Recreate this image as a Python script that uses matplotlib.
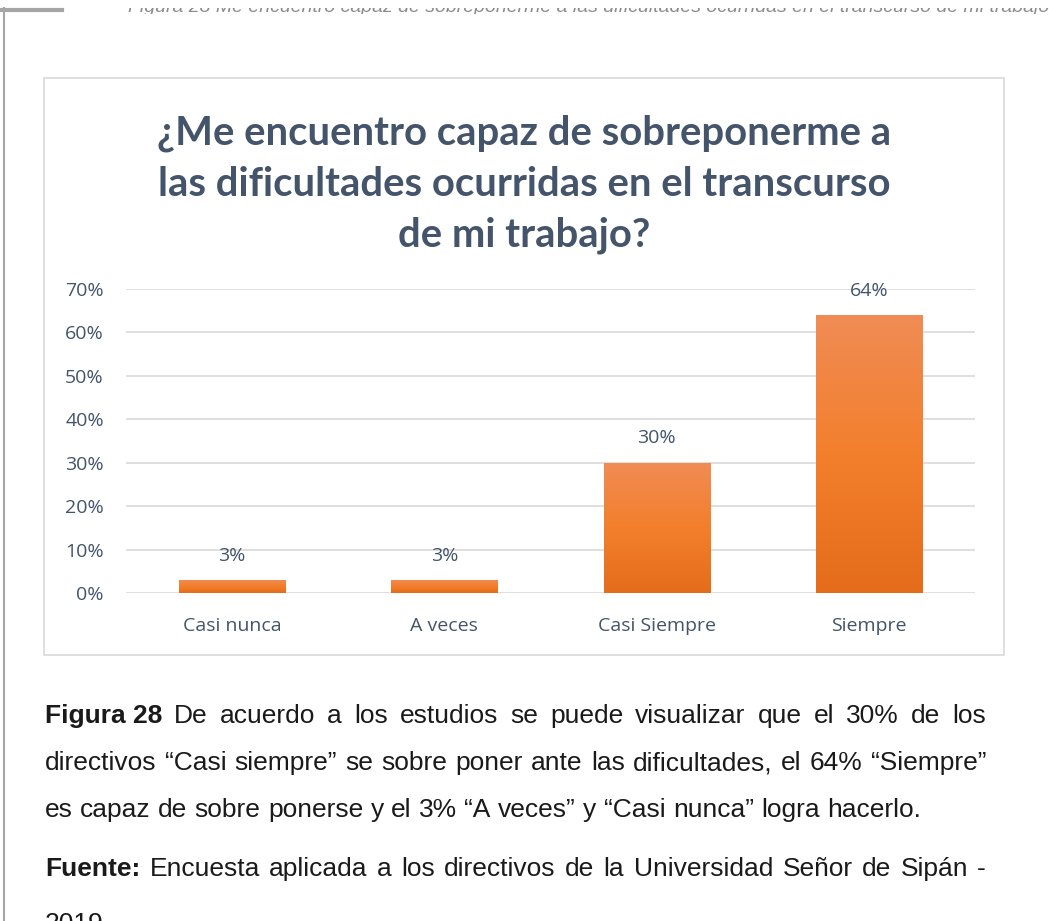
import numpy as np
import matplotlib.pyplot as plt
from matplotlib.patches import Rectangle
from matplotlib.lines import Line2D
from matplotlib.colors import LinearSegmentedColormap

categories = ["Casi nunca", "A veces", "Casi Siempre", "Siempre"]
values = [0.03, 0.03, 0.30, 0.64]
labels = ["3%", "3%", "30%", "64%"]
yticks = [0, 0.1, 0.2, 0.3, 0.4, 0.5, 0.6, 0.7]

title = "¿Me encuentro capaz de sobreponerme a\nlas dificultades ocurridas en el transcurso\nde mi trabajo?"
caption = [
    ("Figura 28", "De acuerdo a los estudios se puede visualizar que el 30% de los", True),
    ("", "directivos “Casi siempre” se sobre poner ante las dificultades, el 64% “Siempre”", True),
    ("", "es capaz de sobre ponerse y el 3% “A veces” y “Casi nunca” logra hacerlo.", False),
]
source = ("Fuente:", "Encuesta aplicada a los directivos de la Universidad Señor de Sipán -")

W, H = 1049, 921
fig = plt.figure(figsize=(W / 100, H / 100), dpi=100)


def fx(px):
    return px / W


def fy(py):
    return 1 - py / H


txt_col = "#44546A"

# page border and the cut-off caption of the previous figure (only its bottom strip shows)
fig.add_artist(Line2D([fx(4), fx(4)], [fy(8), 0], color="#A6A6A6", lw=1.5))
fig.add_artist(Line2D([0, fx(62)], [fy(10), fy(10)], color="#A6A6A6", lw=3))
strip = fig.add_axes([0, fy(14), 1, fy(8) - fy(14)])
strip.axis("off")
strip.text(fx(128), 0.35, "Figura 28 Me encuentro capaz de sobreponerme a las dificultades ocurridas en el transcurso de mi trabajo",
           transform=strip.transAxes, fontsize=14, style="italic", color="#8C8C8C",
           va="baseline", ha="left", family="Liberation Sans", clip_on=True)

# chart box
fig.add_artist(Rectangle((fx(44), fy(655)), fx(1004) - fx(44), fy(78) - fy(655),
                         fill=False, edgecolor="#D9D9D9", lw=1.2))

fig.text(fx(524), fy(184), title, ha="center", va="center", fontsize=28.8, fontweight="bold",
         color=txt_col, family="Lato", linespacing=1.45)

ax = fig.add_axes([fx(126), fy(593), fx(975) - fx(126), fy(289) - fy(593)])
x = np.arange(len(categories))
bars = ax.bar(x, values, width=0.5, color="#F37F2C", zorder=3)

# vertical gradient on each bar
grad = np.linspace(0, 1, 256).reshape(-1, 1)
cmap = LinearSegmentedColormap.from_list("og", ["#E46C1A", "#F37F2C", "#F08C55"])
for b in bars:
    x0, y0 = b.get_x(), b.get_y()
    im = ax.imshow(grad, cmap=cmap, aspect="auto", origin="lower",
                   extent=[x0, x0 + b.get_width(), y0, y0 + b.get_height()], zorder=4)
    im.set_clip_path(b)

for xi, v, lab in zip(x, values, labels):
    ax.annotate(lab, (xi, v), xytext=(0, 11), textcoords="offset points", ha="center",
                va="bottom", fontsize=14, color=txt_col, family="Open Sans")

ax.set_xlim(-0.5, len(categories) - 0.5)
ax.set_ylim(0, 0.7)
ax.set_yticks(yticks)
ax.set_yticklabels([f"{int(round(t * 100))}%" for t in yticks])
ax.set_xticks(x)
ax.set_xticklabels(categories)
for s in ax.spines.values():
    s.set_visible(False)
ax.yaxis.grid(True, color="#D9D9D9", lw=1.2, zorder=0)
ax.tick_params(length=0, labelsize=14, labelcolor=txt_col)
ax.tick_params(axis="x", pad=17)
ax.tick_params(axis="y", pad=16)
for t in ax.get_xticklabels() + ax.get_yticklabels():
    t.set_family("Open Sans")
ax.set_facecolor("none")

# caption, justified lines
fig.canvas.draw()
renderer = fig.canvas.get_renderer()
left_px, right_px = 45, 986
cap_fs = 19


def draw_line(ypx, bold, rest, justify):
    words = []
    if bold:
        words.append((bold, "bold"))
    words += [(w, "normal") for w in rest.split()]
    arts = []
    for w, wt in words:
        t = fig.text(0, fy(ypx), w, fontsize=cap_fs, fontweight=wt, family="Liberation Sans",
                     color="#1A1A1A", va="baseline", ha="left")
        arts.append(t)
    widths = [a.get_window_extent(renderer).width for a in arts]
    gap = cap_fs * 100 / 72 * 0.278
    if justify and len(arts) > 1:
        gap = (right_px - left_px - sum(widths)) / (len(arts) - 1)
    pos = left_px
    for a, w in zip(arts, widths):
        a.set_x(fx(pos))
        pos += w + gap


ys = [723, 770, 817]
for ypx, (b, r, j) in zip(ys, caption):
    draw_line(ypx, b, r, j)
draw_line(876, source[0], source[1], True)
fig.text(fx(45), fy(931), "2019", fontsize=cap_fs, family="Liberation Sans", color="#1A1A1A",
         va="baseline", ha="left")

fig.savefig("out.png", dpi=100)
